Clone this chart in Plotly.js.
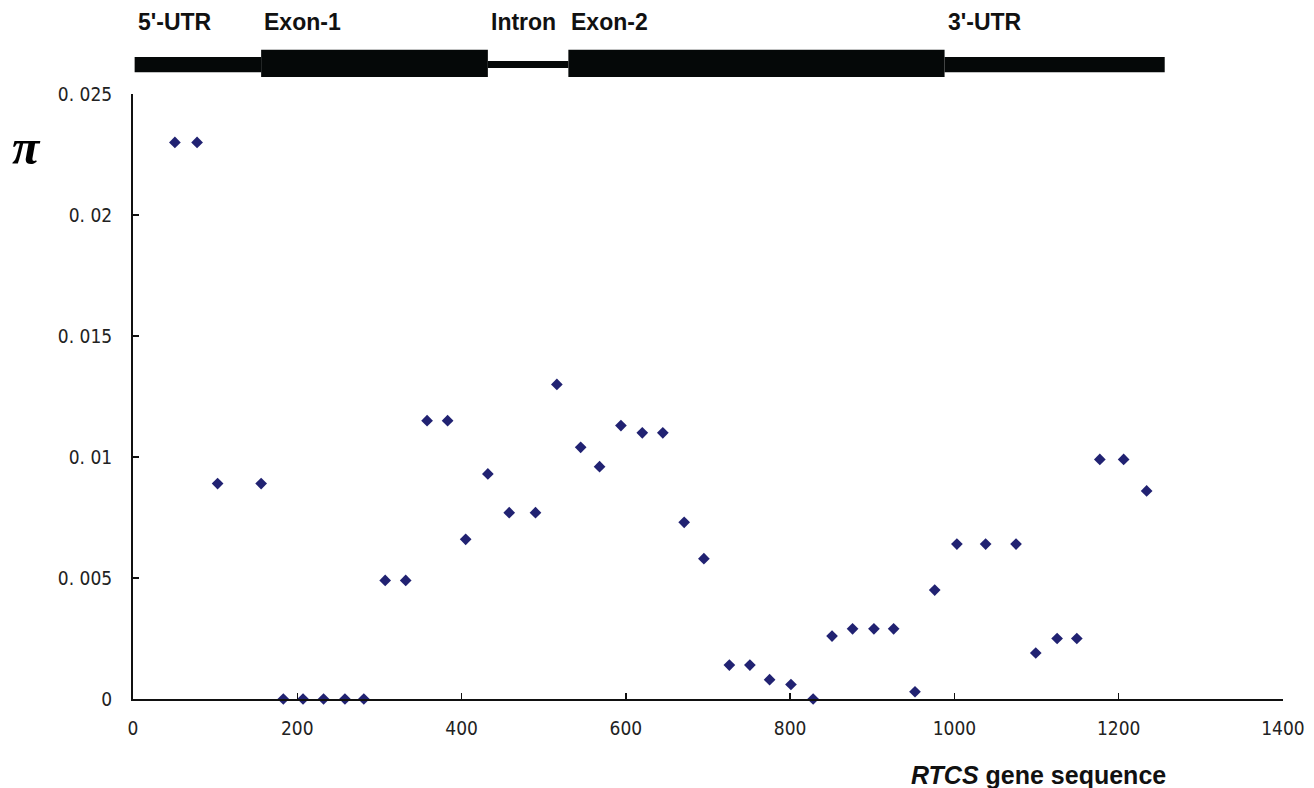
<!DOCTYPE html>
<html>
<head>
<meta charset="utf-8">
<script src="https://cdn.plot.ly/plotly-3.0.1.min.js"></script>
<style>html,body{margin:0;padding:0;background:#fff;}#chart{width:1314px;height:788px;}</style>
</head>
<body>
<div id="chart"></div>
<script>
// Nucleotide diversity (pi) along the RTCS gene sequence
var positions = [51, 78, 103, 156, 183, 207, 232, 258, 281, 307, 332, 358, 383, 405, 432, 458, 490, 516, 545, 568, 594, 620, 645, 671, 695, 726, 751, 775, 801, 828, 851, 876, 902, 926, 952, 976, 1003, 1038, 1075, 1099, 1125, 1149, 1177, 1206, 1234];
var piValues  = [0.0230, 0.0230, 0.0089, 0.0089, 0, 0, 0, 0, 0, 0.0049, 0.0049, 0.0115, 0.0115, 0.0066, 0.0093, 0.0077, 0.0077, 0.0130, 0.0104, 0.0096, 0.0113, 0.0110, 0.0110, 0.0073, 0.0058, 0.0014, 0.0014, 0.0008, 0.0006, 0, 0.0026, 0.0029, 0.0029, 0.0029, 0.0003, 0.0045, 0.0064, 0.0064, 0.0064, 0.0019, 0.0025, 0.0025, 0.0099, 0.0099, 0.0086];

// Gene structure
var regionNames = ["5'-UTR", "Exon-1", "Intron", "Exon-2", "3'-UTR"];
var regionStart = [2, 156, 432, 530, 988];
var regionEnd   = [156, 432, 530, 988, 1256];
var regionKind  = ["utr", "exon", "intron", "exon", "utr"];

var yTickVals  = [0, 0.005, 0.01, 0.015, 0.02, 0.025];
var yTickText  = ["0", "0. 005", "0. 01", "0. 015", "0. 02", "0. 025"];
var xTickVals  = [0, 200, 400, 600, 800, 1000, 1200, 1400];

var bandY = {
  exon:   [1.028, 1.073],
  utr:    [1.036, 1.061],
  intron: [1.043, 1.0545]
};

var shapes = regionNames.map(function (n, i) {
  var b = bandY[regionKind[i]];
  return {
    type: 'rect', xref: 'x', yref: 'paper',
    x0: regionStart[i], x1: regionEnd[i], y0: b[0], y1: b[1],
    fillcolor: '#050808', line: {width: 0}, layer: 'above'
  };
});

var annotations = regionNames.map(function (n, i) {
  return {
    text: n, xref: 'x', yref: 'paper', x: regionStart[i], y: 1.119,
    xanchor: 'left', yanchor: 'middle', showarrow: false, xshift: 1,
    font: {family: 'Liberation Sans, Arial, sans-serif', size: 23, color: '#111', weight: 'bold'}
  };
});
annotations.push({
  text: '<i>π</i>', xref: 'paper', yref: 'paper', x: -0.093, y: 0.913,
  xanchor: 'center', yanchor: 'middle', showarrow: false,
  font: {family: 'Liberation Serif, Times New Roman, serif', size: 50, color: '#000', weight: 'bold'}
});
annotations.push({
  text: '<b><i>RTCS</i> gene sequence</b>', xref: 'x', yref: 'paper', x: 1102, y: -0.126,
  xanchor: 'center', yanchor: 'middle', showarrow: false,
  font: {family: 'Liberation Sans, Arial, sans-serif', size: 25, color: '#111'}
});

var tickFont = {family: 'DejaVu Sans Condensed, Liberation Sans Narrow, DejaVu Sans Mono, monospace', size: 19, color: '#222'};

var trace = {
  x: positions, y: piValues, type: 'scatter', mode: 'markers',
  marker: {symbol: 'diamond', size: 9, color: '#212272'},
  cliponaxis: false, hoverinfo: 'x+y'
};

var layout = {
  width: 1314, height: 788,
  margin: {l: 133, r: 31, t: 94, b: 89},
  paper_bgcolor: '#fff', plot_bgcolor: '#fff',
  showlegend: false,
  xaxis: {
    range: [0, 1400], tickvals: xTickVals, ticks: 'inside', ticklen: 6, tickwidth: 1.5, tickcolor: '#111',
    showline: true, linecolor: '#111', linewidth: 2, showgrid: false, zeroline: false,
    tickfont: tickFont, ticklabelstandoff: 11
  },
  yaxis: {
    range: [0, 0.025], tickvals: yTickVals, ticktext: yTickText, ticks: 'inside', ticklen: 6, tickwidth: 1.5, tickcolor: '#111',
    showline: true, linecolor: '#111', linewidth: 2, showgrid: false, zeroline: false,
    tickfont: tickFont, ticklabelstandoff: 15
  },
  shapes: shapes,
  annotations: annotations
};

Plotly.newPlot('chart', [trace], layout, {staticPlot: true, displayModeBar: false});
</script>
</body>
</html>
